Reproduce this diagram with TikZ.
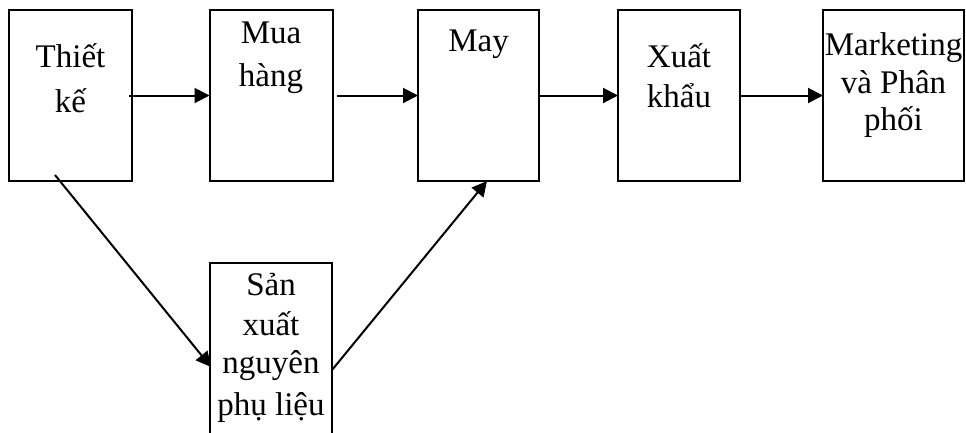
\documentclass[tikz,border=0pt]{standalone}
\usepackage{fontspec}
\setmainfont{Liberation Serif}
\usetikzlibrary{arrows.meta,calc}
\begin{document}
\begin{tikzpicture}[x=1pt,y=-1pt,
  box/.style={draw,line width=2pt,inner sep=0pt,outer sep=0pt,minimum width=#1},
  box/.default=123pt,
  txt/.style={anchor=base,inner sep=0pt,font=\fontsize{33}{38}\selectfont},
  flow/.style={line width=2pt,-{Triangle[length=15pt,width=15pt]}}]
\clip (0,0) rectangle (966,432);
% process boxes
\node[box,minimum height=171pt] (b1) at (70.5,95.5) {};
\node[box,minimum height=171pt] (b2) at (271,95.5) {};
\node[box=121pt,minimum height=171pt] (b3) at (478.5,95.5) {};
\node[box=122pt,minimum height=171pt] (b4) at (679,95.5) {};
\node[box=141pt,minimum height=171pt] (b5) at (893.5,95.5) {};
\node[box=122pt,minimum height=200pt] (b6) at (271,363) {};
% labels
\node[txt] (t1a) at (70.5,67) {Thiết};
\node[txt] (t1b) at (70.5,112) {kế};
\node[txt] (t2a) at (271,43) {Mua};
\node[txt] (t2b) at (271,86) {hàng};
\node[txt] (t3a) at (478.5,51) {May};
\node[txt] (t4a) at (679,67) {Xuất};
\node[txt] (t4b) at (679,107) {khẩu};
\node[txt] (t5a) at (893.5,55) {Marketing};
\node[txt] (t5b) at (893.5,93) {và Phân};
\node[txt] (t5c) at (893.5,130) {phối};
\node[txt] (t6a) at (271,295) {Sản};
\node[txt] (t6b) at (271,335) {xuất};
\node[txt] (t6c) at (271,373) {nguyên};
\node[txt] (t6d) at (271,415) {phụ liệu};
% connectors
\draw[flow] ([xshift=-3pt]b1.east) -- (b2.west);
\draw[flow] ([xshift=4pt]b2.east) -- (b3.west);
\draw[flow] (b3.east) -- (b4.west);
\draw[flow] (b4.east) -- (b5.west);
\coordinate (d1s) at (55,175);
\draw[flow] (d1s) -- ($(b6.north west)+(1,104)$);
\draw[flow] ($(b6.north east)+(0,107)$) -- ($(b3.south west)+(69,0)$);
\end{tikzpicture}
\end{document}
